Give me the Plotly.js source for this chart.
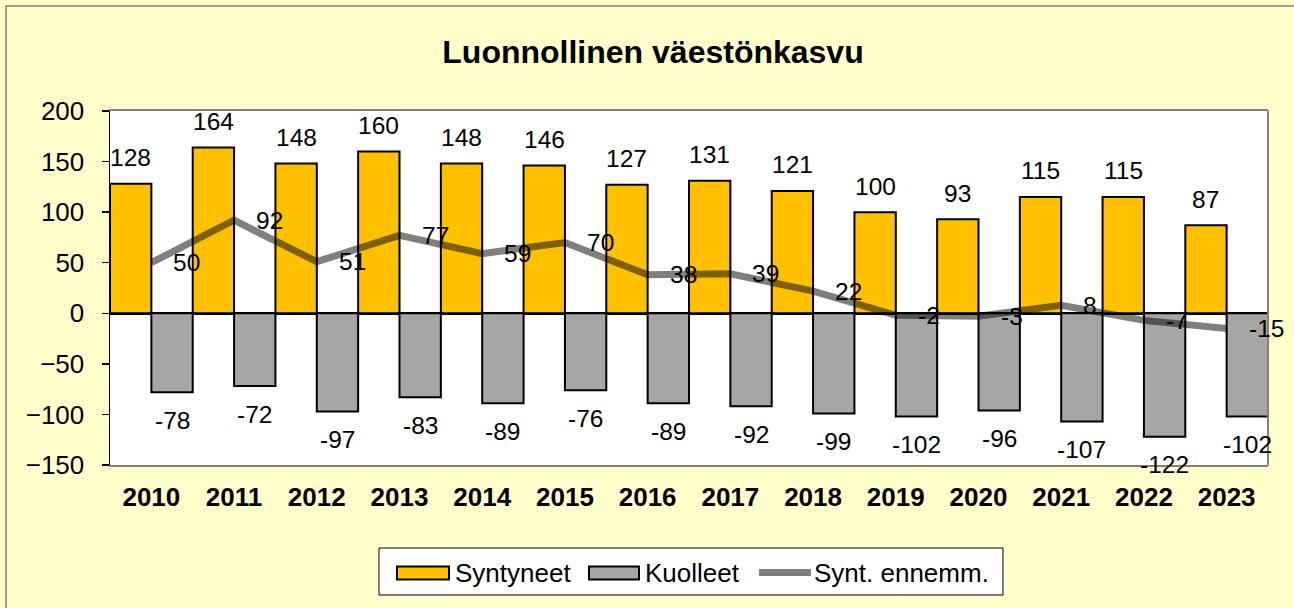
<!DOCTYPE html>
<html>
<head>
<meta charset="utf-8">
<script src="https://cdn.plot.ly/plotly-3.0.1.min.js"></script>
<style>html,body{margin:0;padding:0;background:#FFFFCC;}#chart{width:1294px;height:608px;}</style>
</head>
<body>
<div id="chart"></div>
<script>
const years = ['2010','2011','2012','2013','2014','2015','2016','2017','2018','2019','2020','2021','2022','2023'];
const syntyneet = [128,164,148,160,148,146,127,131,121,100,93,115,115,87];
const kuolleet = [-78,-72,-97,-83,-89,-76,-89,-92,-99,-102,-96,-107,-122,-102];
const syntEnnemm = [50,92,51,77,59,70,38,39,22,-2,-3,8,-7,-15];
const seriesNames = ['Syntyneet','Kuolleet','Synt. ennemm.'];
const yTicks = [-150,-100,-50,0,50,100,150,200];

const FONT = 'Liberation Sans, Arial, sans-serif';
const W = 1294, H = 608, ML = 110, MR = 26, MT = 111, MB = 143;
const PW = W - ML - MR, PH = H - MT - MB;
const px = x => (x - ML) / PW;
const py = y => (H - MB - y) / PH;

const idx = years.map((_, i) => i);

const traces = [
  {type:'bar', name:seriesNames[0], x:idx, y:syntyneet,
   marker:{color:'#FFC000', line:{color:'#000', width:2}}, hoverinfo:'skip'},
  {type:'bar', name:seriesNames[1], x:idx, y:kuolleet,
   marker:{color:'#A6A6A6', line:{color:'#000', width:2}}, hoverinfo:'skip'},
  {type:'scatter', mode:'lines', name:seriesNames[2], x:idx, y:syntEnnemm,
   line:{color:'rgba(0,0,0,0.5)', width:7}, hoverinfo:'skip'}
];

const ann = [];
const lblFont = {family:FONT, size:24.5, color:'#000'};
idx.forEach(i => {
  ann.push({x:i-0.25, y:syntyneet[i], xref:'x', yref:'y', text:String(syntyneet[i]), showarrow:false,
            yanchor:'middle', xanchor:'center', yshift:26, font:lblFont});
  ann.push({x:i+0.25, y:kuolleet[i], xref:'x', yref:'y', text:String(kuolleet[i]), showarrow:false,
            yanchor:'middle', xanchor:'center', yshift:-28, font:lblFont});
  ann.push({x:i, y:syntEnnemm[i], xref:'x', yref:'y', text:String(syntEnnemm[i]), showarrow:false,
            yanchor:'middle', xanchor:'left', xshift:20, font:lblFont});
});

// custom legend
const legFont = {family:FONT, size:26, color:'#000'};
const legY = 573;
ann.push({x:px(453), y:py(legY), xref:'paper', yref:'paper', text:seriesNames[0], showarrow:false, xanchor:'left', yanchor:'middle', font:legFont});
ann.push({x:px(643), y:py(legY), xref:'paper', yref:'paper', text:seriesNames[1], showarrow:false, xanchor:'left', yanchor:'middle', font:legFont});
ann.push({x:px(812), y:py(legY), xref:'paper', yref:'paper', text:seriesNames[2], showarrow:false, xanchor:'left', yanchor:'middle', font:legFont});

const shapes = [
  // outer frame
  {type:'rect', xref:'paper', yref:'paper', x0:px(6), x1:px(1400), y0:py(700), y1:py(6),
   line:{color:'#808080', width:1.5}, fillcolor:'rgba(0,0,0,0)', layer:'above'},
  // right border of plot area
  {type:'line', xref:'paper', yref:'paper', x0:1, x1:1, y0:0, y1:1, line:{color:'#808080', width:2}, layer:'above'},
  // legend box
  {type:'rect', xref:'paper', yref:'paper', x0:px(379), x1:px(1003), y0:py(595), y1:py(548),
   line:{color:'#000', width:1}, fillcolor:'#FFFFFF', layer:'above'},
  {type:'rect', xref:'paper', yref:'paper', x0:px(397), x1:px(449), y0:py(579.5), y1:py(566.5),
   line:{color:'#000', width:2}, fillcolor:'#FFC000', layer:'above'},
  {type:'rect', xref:'paper', yref:'paper', x0:px(589), x1:px(639), y0:py(579.5), y1:py(566.5),
   line:{color:'#000', width:2}, fillcolor:'#A6A6A6', layer:'above'},
  {type:'line', xref:'paper', yref:'paper', x0:px(759), x1:px(811), y0:py(572.5), y1:py(572.5),
   line:{color:'#808080', width:7}, layer:'above'}
];

const layout = {
  width:W, height:H,
  margin:{l:ML, r:MR, t:MT, b:MB, pad:0},
  paper_bgcolor:'#FFFFCC', plot_bgcolor:'#FFFFFF',
  font:{family:FONT, color:'#000'},
  showlegend:false,
  barmode:'group', bargap:0, bargroupgap:0,
  title:{text:'Luonnollinen väestönkasvu', font:{family:FONT, size:32, weight:'bold', color:'#000'},
         xref:'container', yref:'container', x:653/W, y:1-52/H, xanchor:'center', yanchor:'middle'},
  xaxis:{range:[-0.5, years.length-0.5], tickvals:idx, ticktext:years, ticks:'',
         tickfont:{family:FONT, size:26, weight:'bold', color:'#000'}, ticklabelstandoff:8,
         showline:true, linecolor:'#808080', linewidth:2, mirror:true,
         showgrid:false, zeroline:false, fixedrange:true},
  yaxis:{range:[-150,200], tickvals:yTicks, ticks:'outside', ticklen:7, tickwidth:1.5, tickcolor:'#000',
         tickfont:{family:FONT, size:26, color:'#000'}, ticklabelstandoff:12,
         showline:true, linecolor:'#000', linewidth:1.5,
         zeroline:true, zerolinecolor:'#000', zerolinewidth:2.5,
         showgrid:false, fixedrange:true},
  yaxis2:{range:[-150,200], tickvals:yTicks, overlaying:'y', side:'left', anchor:'x',
          ticks:'inside', ticklen:8, tickwidth:1.5, tickcolor:'#000', showticklabels:false,
          showline:false, zeroline:false, showgrid:false, fixedrange:true},
  annotations:ann,
  shapes:shapes
};

Plotly.newPlot('chart', traces, layout, {staticPlot:true, displayModeBar:false});
</script>
</body>
</html>
